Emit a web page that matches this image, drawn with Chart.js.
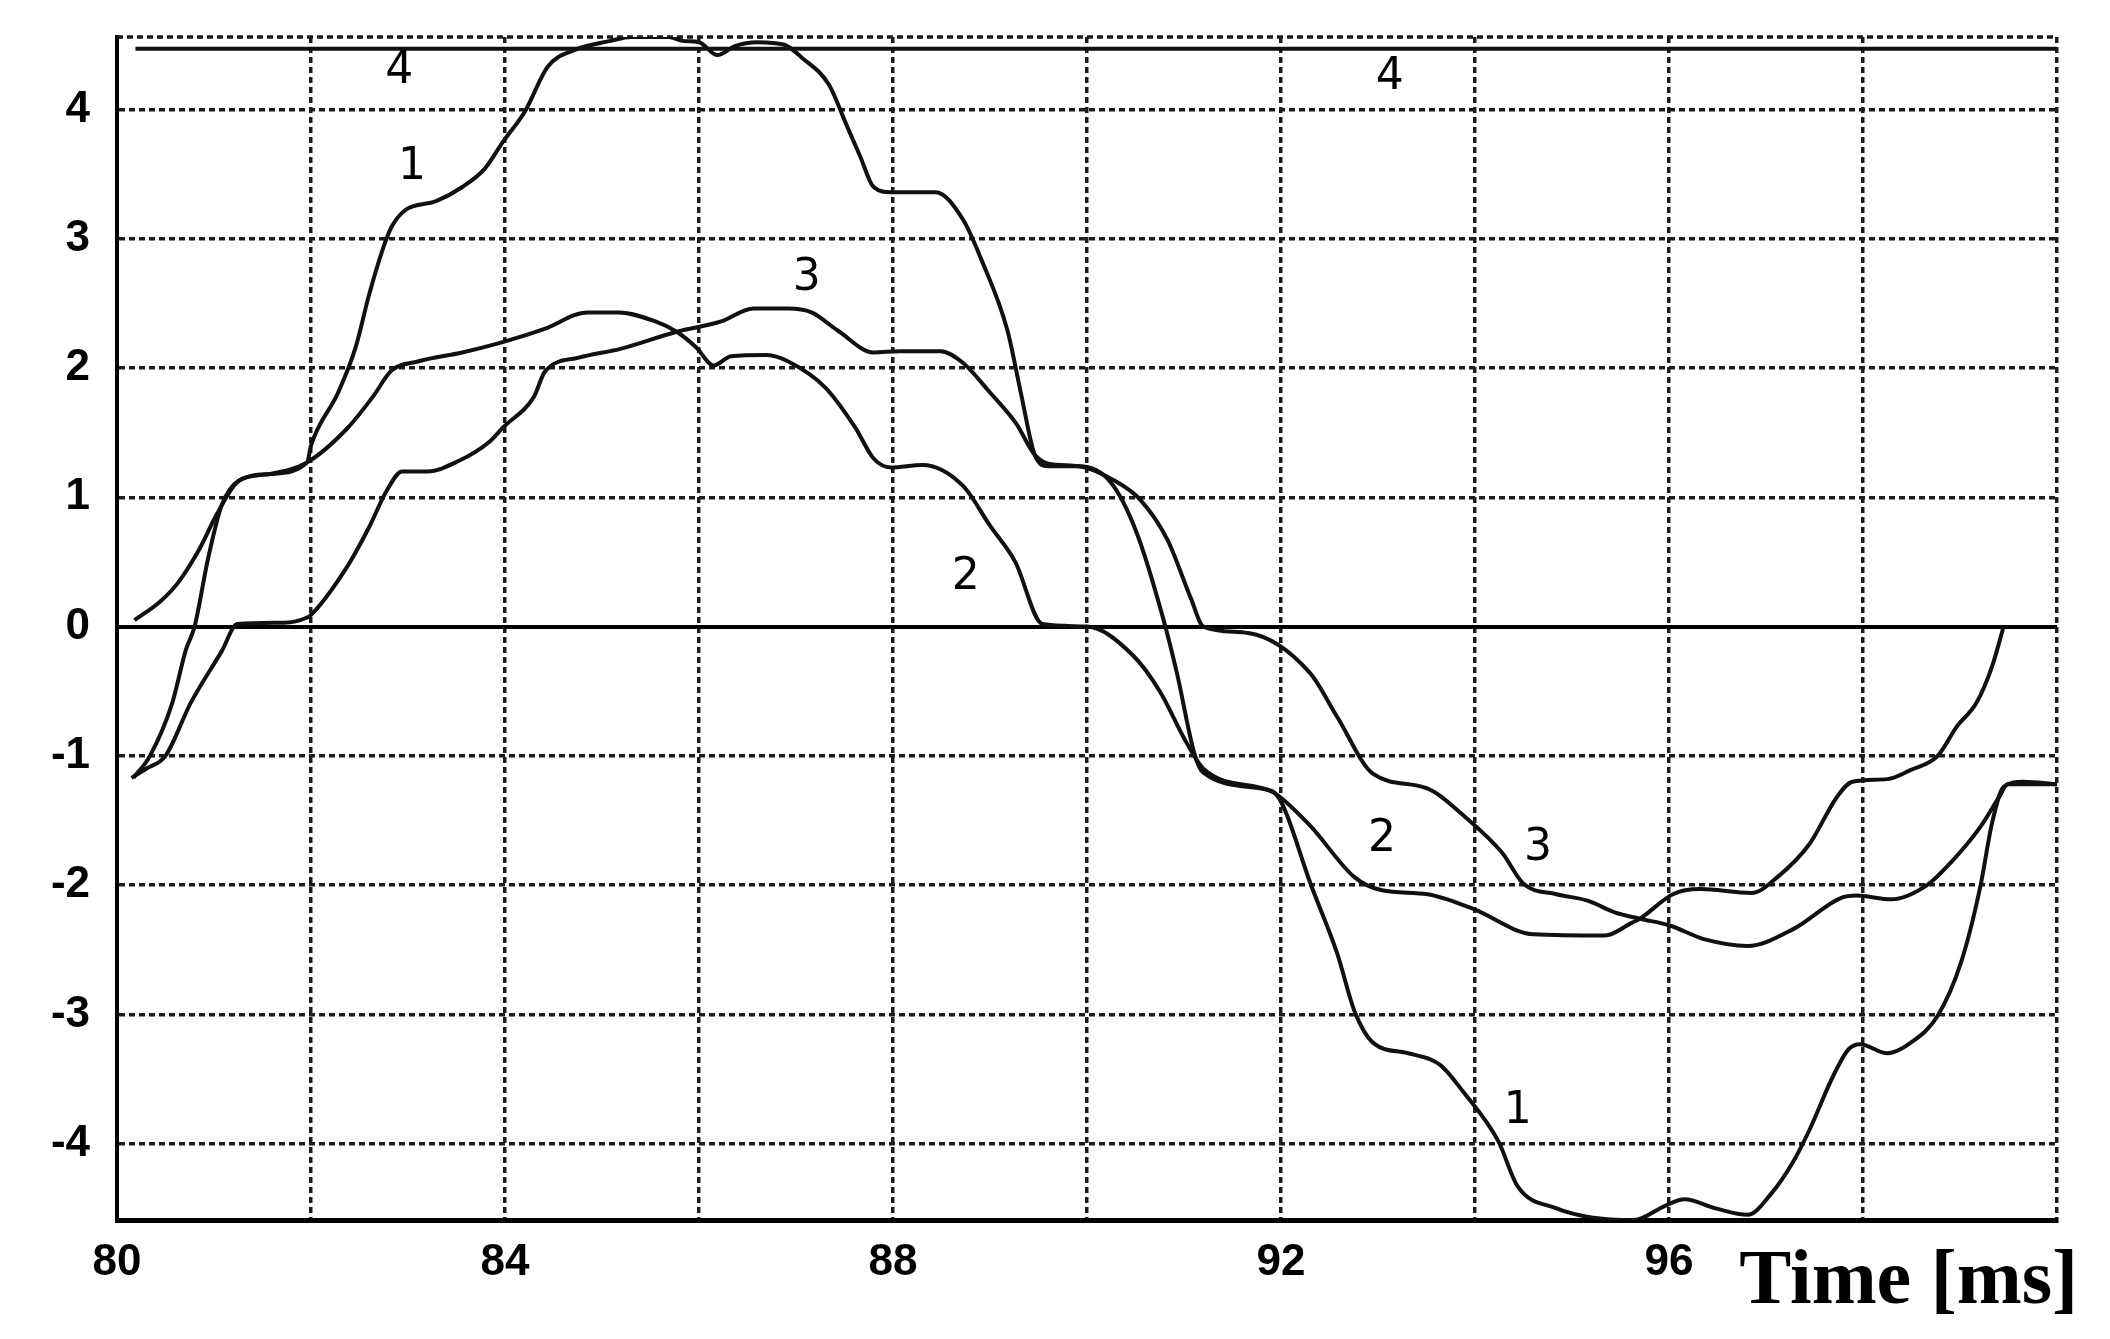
<!DOCTYPE html>
<html>
<head>
<meta charset="utf-8">
<title>Time [ms]</title>
<script src="https://cdn.jsdelivr.net/npm/chart.js@4.4.1/dist/chart.umd.min.js"></script>
<style>
  html, body { margin: 0; padding: 0; background: #fff; }
  #wrap { width: 2110px; height: 1339px; }
</style>
</head>
<body>
<div id="wrap"><canvas id="chart"></canvas></div>
<script>
// axis labels
const xTicks = [80, 84, 88, 92, 96];
const yTicks = [-4, -3, -2, -1, 0, 1, 2, 3, 4];
const xMin = 80, xMax = 100;
const yMin = -4.59, yMax = 4.56;

// curves, [time ms, value]
const curve1 = [[80.17,-1.17],[80.34,-1.0],[80.57,-0.59],[80.71,-0.18],[80.8,0.0],[80.94,0.53],[81.08,0.94],[81.26,1.13],
  [81.58,1.18],[81.96,1.27],[82.0,1.4],[82.28,1.81],[82.46,2.16],[82.6,2.57],[82.74,2.92],[82.83,3.09],[82.97,3.22],
  [83.29,3.29],[83.56,3.4],[83.79,3.54],[83.98,3.75],[84.21,3.99],[84.44,4.33],[84.72,4.46],[85.09,4.53],[85.3,4.56],
  [85.69,4.56],[85.83,4.53],[86.0,4.52],[86.19,4.42],[86.37,4.49],[86.6,4.52],[86.88,4.5],[87.06,4.4],[87.34,4.19],
  [87.52,3.88],[87.66,3.64],[87.8,3.4],[87.98,3.36],[88.44,3.36],[88.72,3.15],[88.91,2.84],[89.18,2.29],[89.32,1.8],
  [89.46,1.33],[89.6,1.24],[89.92,1.24],[90.24,1.12],[90.51,0.73],[90.79,0.05],[90.93,-0.37],[91.11,-0.99],[91.2,-1.13],
  [91.85,-1.26],[91.94,-1.29],[92.03,-1.4],[92.3,-1.98],[92.58,-2.53],[92.76,-2.98],[92.95,-3.22],[93.31,-3.3],
  [93.64,-3.39],[93.87,-3.59],[94.24,-3.98],[94.44,-4.33],[94.84,-4.5],[95.2,-4.57],[95.64,-4.59],[95.96,-4.48],
  [96.16,-4.43],[96.48,-4.5],[96.81,-4.55],[97.05,-4.39],[97.28,-4.14],[97.45,-3.89],[97.69,-3.48],[97.85,-3.27],
  [97.97,-3.23],[98.25,-3.3],[98.49,-3.22],[98.77,-3.01],[99.01,-2.6],[99.21,-2.01],[99.33,-1.52],[99.45,-1.24],
  [99.65,-1.2],[100,-1.22]];

const curve2 = [[80.18,0.05],[80.44,0.19],[80.62,0.33],[80.85,0.6],[81.03,0.87],[81.26,1.13],[81.58,1.18],[81.96,1.27],
  [82.37,1.53],[82.64,1.78],[82.83,1.98],[83.1,2.05],[83.56,2.12],[83.93,2.19],[84.4,2.3],[84.85,2.43],[85.17,2.43],
  [85.55,2.36],[85.77,2.28],[85.97,2.16],[86.15,2.02],[86.33,2.09],[86.7,2.1],[86.92,2.05],[87.3,1.85],[87.61,1.54],
  [87.8,1.3],[87.98,1.23],[88.3,1.25],[88.72,1.09],[89.0,0.78],[89.26,0.5],[89.54,0.02],[90.0,0.0],[90.47,-0.22],
  [90.75,-0.5],[91.02,-0.89],[91.2,-1.1],[91.85,-1.26],[91.94,-1.29],[92.3,-1.54],[92.76,-1.94],[93.04,-2.04],
  [93.51,-2.07],[93.97,-2.18],[94.6,-2.38],[95.34,-2.39],[95.62,-2.29],[95.7,-2.26],[96.04,-2.07],[96.32,-2.03],
  [96.85,-2.06],[97.13,-1.93],[97.45,-1.68],[97.73,-1.32],[97.89,-1.2],[98.25,-1.18],[98.49,-1.11],[98.77,-1.0],
  [98.97,-0.77],[99.17,-0.59],[99.33,-0.31],[99.45,0.0]];

const curve3 = [[80.15,-1.17],[80.3,-1.1],[80.5,-1.0],[80.76,-0.59],[81.08,-0.19],[81.24,0.02],[81.72,0.03],[81.96,0.07],
  [82.0,0.09],[82.37,0.46],[82.6,0.77],[82.78,1.05],[82.94,1.2],[83.2,1.2],[83.52,1.28],[83.84,1.43],[83.98,1.54],
  [84.3,1.78],[84.41,1.97],[84.76,2.08],[85.2,2.15],[85.77,2.28],[86.23,2.36],[86.56,2.46],[86.92,2.46],[87.16,2.43],
  [87.43,2.29],[87.8,2.12],[88.07,2.13],[88.49,2.13],[88.72,2.04],[89.0,1.81],[89.27,1.57],[89.46,1.33],[89.6,1.26],
  [89.92,1.24],[90.28,1.13],[90.55,0.98],[90.83,0.67],[91.07,0.22],[91.2,0.0],[91.66,-0.05],[92.3,-0.36],[92.58,-0.7],
  [92.95,-1.14],[93.5,-1.25],[93.91,-1.48],[94.28,-1.75],[94.5,-1.99],[94.84,-2.07],[95.16,-2.12],[95.44,-2.21],
  [95.7,-2.26],[96.0,-2.31],[96.37,-2.42],[96.81,-2.47],[97.28,-2.34],[97.77,-2.1],[97.93,-2.08],[98.29,-2.11],
  [98.66,-2.0],[98.9,-1.83],[99.21,-1.55],[99.41,-1.31],[99.49,-1.22],[100,-1.22]];

const curve4 = [[80.19,4.47],[100,4.47]];

// curve numbers written on the plot: [text, time, value]
const curveLabels = [['4',82.91,4.29],['4',93.12,4.25],['1',83.04,3.55],['1',94.44,-3.75],
  ['3',87.11,2.69],['3',94.65,-1.72],['2',88.75,0.38],['2',93.04,-1.65]];

const toXY = arr => arr.map(p => ({x: p[0], y: p[1]}));

const gridDash = [6, 4];
const gridColor = '#1c1c1c';

const textPlugin = {
  id: 'texts',
  beforeDatasetsDraw(chart) {
    // dotted top edge of the frame
    const {ctx, chartArea} = chart;
    ctx.save();
    ctx.strokeStyle = gridColor;
    ctx.lineWidth = 3.5;
    ctx.setLineDash(gridDash);
    ctx.beginPath();
    ctx.moveTo(chartArea.left, chartArea.top);
    ctx.lineTo(chartArea.right, chartArea.top);
    ctx.stroke();
    ctx.restore();
  },
  afterDatasetsDraw(chart) {
    const {ctx} = chart;
    const x = chart.scales.x, y = chart.scales.y;
    ctx.save();
    ctx.fillStyle = '#000';
    ctx.font = '44px "DejaVu Sans"';
    ctx.textAlign = 'center';
    ctx.textBaseline = 'middle';
    curveLabels.forEach(l => ctx.fillText(l[0], x.getPixelForValue(l[1]), y.getPixelForValue(l[2])));
    ctx.font = 'bold 78px "Liberation Serif"';
    ctx.textAlign = 'right';
    ctx.textBaseline = 'alphabetic';
    ctx.fillText('Time [ms]', chart.width - 32, chart.height - 36);
    ctx.restore();
  }
};

function lineSet(data) {
  return {
    data: toXY(data),
    borderColor: '#111',
    borderWidth: 4,
    pointRadius: 0,
    fill: false,
    cubicInterpolationMode: 'monotone'
  };
}

const tickFont = {family: 'Liberation Sans', size: 44, weight: 'bold'};

new Chart(document.getElementById('chart'), {
  type: 'line',
  data: {
    datasets: [lineSet(curve1), lineSet(curve2), lineSet(curve3), lineSet(curve4)]
  },
  options: {
    responsive: true,
    maintainAspectRatio: false,
    animation: false,
    devicePixelRatio: 1,
    layout: {padding: {top: 37, right: 53, left: 0, bottom: 0}},
    plugins: {legend: {display: false}, tooltip: {enabled: false}},
    scales: {
      x: {
        type: 'linear',
        min: xMin,
        max: xMax,
        afterFit: s => { s.height = 119; },
        ticks: {
          stepSize: 2,
          autoSkip: false,
          maxRotation: 0,
          padding: 16,
          color: '#000',
          font: tickFont,
          callback: v => xTicks.includes(v) ? String(v) : ''
        },
        grid: {color: gridColor, lineWidth: 3.5, drawTicks: false},
        border: {display: true, color: '#000', width: 5, dash: gridDash}
      },
      y: {
        type: 'linear',
        min: yMin,
        max: yMax,
        afterFit: s => { s.width = 117; s.paddingTop = 0; s.paddingBottom = 0; },
        afterBuildTicks: s => { s.ticks = yTicks.map(v => ({value: v})); },
        ticks: {
          padding: 27,
          color: '#000',
          font: tickFont,
          callback: v => yTicks.includes(v) ? String(v) : ''
        },
        grid: {
          color: c => (c.tick && c.tick.value === 0) ? '#000' : gridColor,
          lineWidth: c => (c.tick && c.tick.value === 0) ? 4 : 3.5,
          drawTicks: false
        },
        border: {
          display: true, color: '#000', width: 4,
          dash: c => (c.tick && c.tick.value === 0) ? [] : gridDash
        }
      }
    }
  },
  plugins: [textPlugin]
});
</script>
</body>
</html>
